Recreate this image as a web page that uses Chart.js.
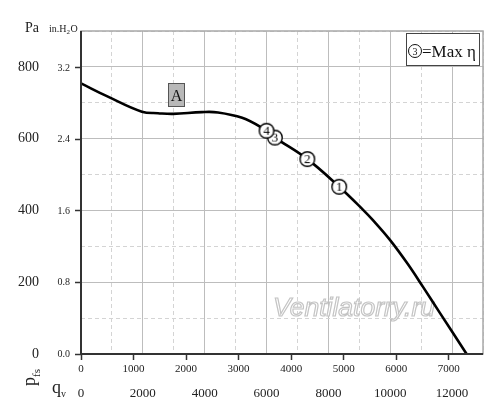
<!DOCTYPE html>
<html>
<head>
<meta charset="utf-8">
<script src="https://cdn.jsdelivr.net/npm/chart.js@4/dist/chart.umd.min.js"></script>
<style>
  html, body { margin: 0; padding: 0; background: #fff; }
  #cadre { display: block; }
</style>
</head>
<body>
<canvas id="cadre" width="500" height="420"></canvas>
<script>
const flowM3h = [0, 870, 1970, 2490, 2980, 3910, 4430, 5210, 5850, 6270, 7320, 8350, 9130, 9440, 9990, 10540, 11060, 11610, 12470];
const pressurePa = [754, 717, 675, 671, 669, 674, 673, 658, 630, 603, 543, 466, 401, 373, 318, 254, 187, 114, 0];

// operating points (3 = max efficiency)
const pointLabels = ["1", "2", "3", "4"];
const pointFlow = [8350, 7320, 6270, 6000];
const pointPa = [466, 543, 603, 622];

// axes
const flowTicks = [0, 1000, 2000, 3000, 4000, 5000, 6000, 7000, 8000, 9000, 10000, 11000, 12000, 13000];
const cfmTicks = [0, 1000, 2000, 3000, 4000, 5000, 6000, 7000];
const paTicks = [0, 100, 200, 300, 400, 500, 600, 700, 800, 900];
const inH2OTicks = [0, 0.8, 1.6, 2.4, 3.2];
const flowMax = 13000;
const paMax = 900;
const M3H_PER_CFM = 1.699;
const INH2O_PER_PA = 0.0040146;

const serif = '"Liberation Serif", "DejaVu Serif", serif';
const textCol = "#222";

function badge(label) {
  let c = document.createElement("canvas");
  c.width = 18;
  c.height = 18;
  let g = c.getContext("2d");
  g.beginPath();
  g.arc(9, 9, 7.3, 0, Math.PI * 2);
  g.fillStyle = "#fff";
  g.fill();
  g.lineWidth = 1.4;
  g.strokeStyle = "#000";
  g.stroke();
  g.fillStyle = "#000";
  g.font = "13px " + serif;
  g.textAlign = "center";
  g.textBaseline = "middle";
  g.fillText(label, 9, 10);
  return c;
}

function isMajor(ctx, step) {
  return ctx.tick && Math.round(ctx.tick.value) % step === 0;
}

// frame + axis lines
const frame = {
  id: "frame",
  afterDatasetsDraw(chart) {
    const { ctx, chartArea: a } = chart;
    ctx.save();
    ctx.strokeStyle = "#a8a8a8";
    ctx.lineWidth = 1.5;
    ctx.strokeRect(a.left, a.top, a.right - a.left, a.bottom - a.top);
    ctx.strokeStyle = "#333";
    ctx.lineWidth = 2;
    ctx.beginPath();
    ctx.moveTo(a.left, a.top);
    ctx.lineTo(a.left, a.bottom);
    ctx.lineTo(a.right, a.bottom);
    ctx.stroke();
    ctx.restore();
  }
};

// watermark under the curve
const watermark = {
  id: "watermark",
  beforeDatasetsDraw(chart) {
    const ctx = chart.ctx;
    ctx.save();
    let txt = "Ventilatorry.ru";
    ctx.font = 'italic 24px "Liberation Sans", Arial, sans-serif';
    let w = ctx.measureText(txt).width;
    let size = 24 * 162 / w;
    ctx.font = 'italic ' + size.toFixed(1) + 'px "Liberation Sans", Arial, sans-serif';
    ctx.fillStyle = "rgba(255,255,255,0.9)";
    ctx.strokeStyle = "#c4c4c4";
    ctx.lineWidth = 1.2;
    ctx.textBaseline = "alphabetic";
    ctx.fillText(txt, 273, 316);
    ctx.strokeText(txt, 273, 316);
    ctx.restore();
  }
};

// titles, "A" tag and legend box
const notes = {
  id: "notes",
  afterDraw(chart) {
    const ctx = chart.ctx;
    ctx.save();
    ctx.fillStyle = textCol;
    ctx.textBaseline = "alphabetic";

    ctx.font = "14px " + serif;
    ctx.fillText("Pa", 25, 32);
    ctx.font = "10px " + serif;
    ctx.fillText("in.H", 49, 32);
    let wh = ctx.measureText("in.H").width;
    ctx.font = "7px " + serif;
    ctx.fillText("2", 49 + wh, 34);
    ctx.font = "10px " + serif;
    ctx.fillText("O", 49 + wh + 4, 32);

    // p_fs, rotated
    ctx.save();
    ctx.translate(35, 386);
    ctx.rotate(-Math.PI / 2);
    ctx.font = "18px " + serif;
    ctx.fillText("p", 0, 0);
    let wp = ctx.measureText("p").width;
    ctx.font = "11px " + serif;
    ctx.fillText("fs", wp, 5);
    ctx.restore();

    // q_v
    ctx.font = "18px " + serif;
    ctx.fillText("q", 52, 393);
    let wq = ctx.measureText("q").width;
    ctx.font = "10px " + serif;
    ctx.fillText("v", 52 + wq, 397);

    // A tag
    ctx.fillStyle = "#b8b8b8";
    ctx.fillRect(168, 83, 16, 23);
    ctx.strokeStyle = "#555";
    ctx.lineWidth = 1;
    ctx.strokeRect(168.5, 83.5, 16, 23);
    ctx.fillStyle = "#111";
    ctx.font = "16px " + serif;
    ctx.textAlign = "center";
    ctx.fillText("A", 176.5, 101);

    // legend box
    ctx.fillStyle = "#fff";
    ctx.fillRect(406, 33, 73, 32);
    ctx.strokeStyle = "#444";
    ctx.strokeRect(406.5, 33.5, 73, 32);
    ctx.beginPath();
    ctx.arc(415, 51, 6.5, 0, Math.PI * 2);
    ctx.strokeStyle = "#111";
    ctx.stroke();
    ctx.fillStyle = "#111";
    ctx.font = "10px " + serif;
    ctx.fillText("3", 415, 54.5);
    ctx.textAlign = "left";
    ctx.font = "17px " + serif;
    ctx.fillText("=Max \u03b7", 422, 57);
    ctx.restore();
  }
};

const canvas = document.getElementById("cadre");
const chart = new Chart(canvas.getContext("2d"), {
  type: "scatter",
  data: {
    datasets: [
      {
        label: "points",
        data: pointFlow.map((q, i) => ({ x: q, y: pointPa[i] })),
        pointStyle: pointLabels.map(badge),
        pointRadius: 7,
        showLine: false,
        order: 0
      },
      {
        label: "p_fs",
        data: flowM3h.map((q, i) => ({ x: q, y: pressurePa[i] })),
        showLine: true,
        borderColor: "#000",
        borderWidth: 2.6,
        pointRadius: 0,
        tension: 0.4,
        order: 1
      }
    ]
  },
  options: {
    responsive: false,
    animation: false,
    devicePixelRatio: 1,
    layout: { padding: { top: 31, right: 17, bottom: 12, left: 0 } },
    plugins: { legend: { display: false }, tooltip: { enabled: false } },
    scales: {
      x: {
        type: "linear",
        position: "bottom",
        weight: 1,
        min: 0,
        max: flowMax,
        afterBuildTicks: (s) => { s.ticks = flowTicks.map((v) => ({ value: v })); },
        afterFit: (s) => { s.height = 30; },
        grid: {
          drawTicks: false,
          lineWidth: 1,
          color: (ctx) => (isMajor(ctx, 2000) ? "#bdbdbd" : "#d4d4d4"),
          borderDash: (ctx) => (isMajor(ctx, 2000) ? [] : [4, 3])
        },
        border: { display: false, dash: (ctx) => (isMajor(ctx, 2000) ? [] : [4, 3]) },
        ticks: {
          autoSkip: false,
          maxRotation: 0,
          padding: 8,
          color: textCol,
          font: { family: serif, size: 13 },
          callback: (v) => (v % 2000 === 0 && v < flowMax ? String(v) : "")
        }
      },
      x2: {
        type: "linear",
        position: "bottom",
        weight: 0,
        min: 0,
        max: flowMax / M3H_PER_CFM,
        afterBuildTicks: (s) => { s.ticks = cfmTicks.map((v) => ({ value: v })); },
        afterFit: (s) => { s.height = 24; },
        grid: { drawOnChartArea: false, drawTicks: true, tickLength: 6, tickColor: "#333", tickWidth: 1.5 },
        border: { display: false },
        ticks: {
          autoSkip: false,
          maxRotation: 0,
          padding: 3,
          color: textCol,
          font: { family: serif, size: 11 },
          callback: (v) => String(v)
        }
      },
      y: {
        type: "linear",
        position: "left",
        weight: 1,
        min: 0,
        max: paMax,
        afterBuildTicks: (s) => { s.ticks = paTicks.map((v) => ({ value: v })); },
        afterFit: (s) => { s.width = 48; },
        grid: {
          drawTicks: false,
          lineWidth: 1,
          color: (ctx) => (isMajor(ctx, 200) ? "#bdbdbd" : "#d4d4d4"),
          borderDash: (ctx) => (isMajor(ctx, 200) ? [] : [4, 3])
        },
        border: { display: false, dash: (ctx) => (isMajor(ctx, 200) ? [] : [4, 3]) },
        ticks: {
          autoSkip: false,
          padding: 9,
          color: textCol,
          font: { family: serif, size: 14 },
          callback: (v) => (v % 200 === 0 ? String(v) : "")
        }
      },
      y2: {
        type: "linear",
        position: "left",
        weight: 0,
        min: 0,
        max: paMax * INH2O_PER_PA,
        afterBuildTicks: (s) => { s.ticks = inH2OTicks.map((v) => ({ value: v })); },
        afterFit: (s) => { s.width = 33; },
        grid: { drawOnChartArea: false, drawTicks: true, tickLength: 6, tickColor: "#333", tickWidth: 1.5 },
        border: { display: false },
        ticks: {
          autoSkip: false,
          padding: 5,
          color: textCol,
          font: { family: serif, size: 10 },
          callback: (v) => Number(v).toFixed(1)
        }
      }
    }
  },
  plugins: [watermark, frame, notes]
});
</script>
</body>
</html>
